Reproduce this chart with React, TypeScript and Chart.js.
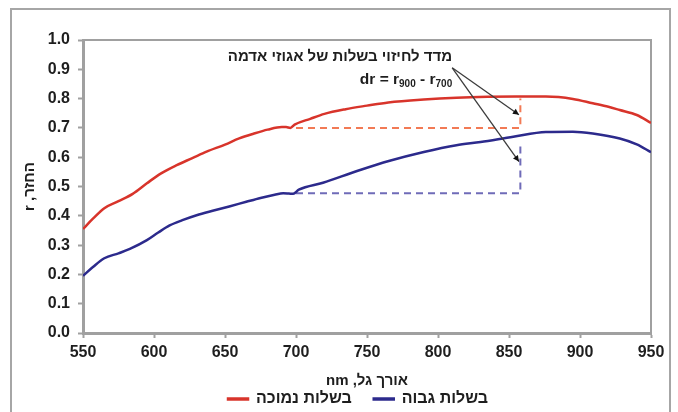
import React, { useEffect, useRef } from 'react';
import { Chart, registerables } from 'chart.js';

Chart.register(...registerables);

// ---- texts ----
const lowLabel = 'בשלות נמוכה';
const highLabel = 'בשלות גבוה';
const xTitle = 'אורך גל, nm';
const yTitle = 'החזר, r';
const noteLine1 = 'מדד לחיזוי בשלות של אגוזי אדמה';
const noteMain = ['dr = r', ' - r'];
const noteSubs = ['900', '700'];

// ---- axes ----
const xMin = 550;
const xMax = 950;
const xStep = 50;
const yMin = 0;
const yMax = 1;
const yStep = 0.1;

// ---- series: low maturity (red) ----
const lowX = [550, 557, 565, 575, 585, 595, 605, 616, 627, 637, 650, 660, 670, 680, 690, 693, 696, 699, 710, 720, 735, 750, 765, 790, 813, 835, 855, 876, 895, 909, 920, 928, 940, 950];
const lowY = [0.355, 0.39, 0.426, 0.45, 0.475, 0.511, 0.545, 0.573, 0.597, 0.619, 0.643, 0.664, 0.68, 0.694, 0.703, 0.703, 0.7, 0.711, 0.731, 0.748, 0.764, 0.776, 0.787, 0.797, 0.803, 0.806, 0.807, 0.807, 0.799, 0.784, 0.772, 0.761, 0.744, 0.717];

// ---- series: high maturity (blue) ----
const highX = [550, 557, 565, 575, 583, 595, 603, 611, 620, 630, 642, 653, 665, 675, 685, 691, 695, 698, 702, 719, 743, 766, 790, 813, 830, 853, 876, 895, 909, 928, 940, 950];
const highY = [0.195, 0.225, 0.255, 0.272, 0.287, 0.317, 0.343, 0.367, 0.385, 0.402, 0.418, 0.432, 0.448, 0.461, 0.472, 0.477, 0.476, 0.475, 0.489, 0.513, 0.553, 0.588, 0.618, 0.641, 0.652, 0.67, 0.686, 0.687, 0.681, 0.664, 0.644, 0.617];

// ---- dr guides (dashed) ----
const guideX = [700, 858, 858];
const guideLowY = [0.7, 0.7, 0.8];
const guideHighY = [0.477, 0.477, 0.65];

// ---- annotation anchors (data space) ----
const arrowStart = [810, 0.905];
const arrowTipX = [857, 857];
const arrowTipY = [0.745, 0.585];
const noteX = 810;
const noteY = [0.942, 0.864];

const FONT = 'Arial, "Liberation Sans", sans-serif';
const TEXT = '#1e1e1e';
const AXIS = '#a0a0a0';

const toPoints = (xs: number[], ys: number[]) => xs.map((x, i) => ({ x, y: ys[i] }));

const notePlugin = {
  id: 'note',
  beforeDatasetsDraw(chart: any) {
    const { ctx, chartArea } = chart;
    ctx.save();
    ctx.strokeStyle = AXIS;
    ctx.lineWidth = 2;
    ctx.strokeRect(chartArea.left, chartArea.top, chartArea.right - chartArea.left, chartArea.bottom - chartArea.top);
    ctx.restore();
  },
  afterDatasetsDraw(chart: any) {
    const { ctx } = chart;
    const xs = chart.scales.x;
    const ys = chart.scales.y;
    ctx.save();
    const sx = xs.getPixelForValue(arrowStart[0]);
    const sy = ys.getPixelForValue(arrowStart[1]);
    ctx.strokeStyle = '#3c3c3c';
    ctx.fillStyle = '#111';
    ctx.lineWidth = 1.3;
    for (let i = 0; i < arrowTipX.length; i++) {
      const tx = xs.getPixelForValue(arrowTipX[i]);
      const ty = ys.getPixelForValue(arrowTipY[i]);
      ctx.beginPath();
      ctx.moveTo(sx, sy);
      ctx.lineTo(tx, ty);
      ctx.stroke();
      const a = Math.atan2(ty - sy, tx - sx);
      const L = 6;
      const W = 3;
      ctx.beginPath();
      ctx.moveTo(tx, ty);
      ctx.lineTo(tx - L * Math.cos(a) + W * Math.sin(a), ty - L * Math.sin(a) - W * Math.cos(a));
      ctx.lineTo(tx - L * Math.cos(a) - W * Math.sin(a), ty - L * Math.sin(a) + W * Math.cos(a));
      ctx.closePath();
      ctx.fill();
    }
    const ax = xs.getPixelForValue(noteX);
    const y1 = ys.getPixelForValue(noteY[0]);
    const y2 = ys.getPixelForValue(noteY[1]);
    ctx.fillStyle = TEXT;
    ctx.textBaseline = 'middle';
    ctx.direction = 'rtl';
    ctx.textAlign = 'right';
    ctx.font = 'bold 15px ' + FONT;
    ctx.fillText(noteLine1, ax, y1);

    ctx.direction = 'ltr';
    ctx.textAlign = 'left';
    const mainFont = 'bold 15.5px ' + FONT;
    const subFont = 'bold 10px ' + FONT;
    const parts: { t: string; sub: boolean }[] = [];
    for (let i = 0; i < noteMain.length; i++) {
      parts.push({ t: noteMain[i], sub: false });
      parts.push({ t: noteSubs[i], sub: true });
    }
    let total = 0;
    const widths = parts.map((p) => {
      ctx.font = p.sub ? subFont : mainFont;
      const w = ctx.measureText(p.t).width;
      total += w;
      return w;
    });
    let cx = ax - total;
    parts.forEach((p, i) => {
      ctx.font = p.sub ? subFont : mainFont;
      ctx.fillText(p.t, cx, p.sub ? y2 + 4 : y2);
      cx += widths[i];
    });
    ctx.restore();
  },
};

export default function App() {
  const ref = useRef<HTMLCanvasElement | null>(null);

  useEffect(() => {
    if (!ref.current) return;
    const chart = new Chart(ref.current, {
      type: 'line',
      data: {
        datasets: [
          {
            label: lowLabel,
            data: toPoints(lowX, lowY),
            borderColor: '#d8342b',
            backgroundColor: '#d8342b',
            borderWidth: 2.5,
            pointRadius: 0,
            cubicInterpolationMode: 'monotone',
          },
          {
            label: highLabel,
            data: toPoints(highX, highY),
            borderColor: '#2c2a8c',
            backgroundColor: '#2c2a8c',
            borderWidth: 2.5,
            pointRadius: 0,
            cubicInterpolationMode: 'monotone',
          },
          {
            label: 'guide-low',
            data: toPoints(guideX, guideLowY),
            borderColor: '#f27a55',
            borderWidth: 2,
            borderDash: [7, 5],
            pointRadius: 0,
            tension: 0,
          },
          {
            label: 'guide-high',
            data: toPoints(guideX, guideHighY),
            borderColor: '#6f6bb8',
            borderWidth: 2,
            borderDash: [7, 5],
            pointRadius: 0,
            tension: 0,
          },
        ],
      },
      options: {
        responsive: false,
        animation: false,
        devicePixelRatio: 1,
        layout: { padding: { left: 38, right: 0, top: 40, bottom: -5 } },
        plugins: {
          tooltip: { enabled: false },
          legend: {
            position: 'bottom',
            labels: {
              filter: (item: any) => item.datasetIndex < 2,
              boxWidth: 20,
              boxHeight: 1,
              padding: 22,
              color: TEXT,
              font: { family: FONT, size: 16, weight: 'bold' },
            },
          },
        },
        scales: {
          x: {
            type: 'linear',
            min: xMin,
            max: xMax,
            afterFit: (s: any) => {
              s.height = 36;
            },
            ticks: {
              stepSize: xStep,
              padding: 5,
              color: TEXT,
              font: { family: FONT, size: 16, weight: 'bold' },
            },
            grid: { display: true, drawOnChartArea: false, drawTicks: true, tickLength: 5, tickColor: AXIS, tickWidth: 2 },
            border: { display: true, color: AXIS, width: 3 },
            title: {
              display: true,
              text: xTitle,
              color: TEXT,
              font: { family: FONT, size: 15, weight: 'bold' },
              padding: { top: 0, bottom: -21 },
            },
          },
          y: {
            type: 'linear',
            min: yMin,
            max: yMax,
            afterFit: (s: any) => {
              s.width = 45;
            },
            ticks: {
              stepSize: yStep,
              padding: 8,
              color: TEXT,
              font: { family: FONT, size: 16, weight: 'bold' },
              callback: (v: any) => Number(v).toFixed(1),
            },
            grid: { display: true, drawOnChartArea: false, drawTicks: true, tickLength: 5, tickColor: AXIS, tickWidth: 2 },
            border: { display: true, color: AXIS, width: 3 },
            title: {
              display: true,
              text: yTitle,
              color: TEXT,
              font: { family: FONT, size: 15, weight: 'bold' },
              padding: { top: -17, bottom: 0 },
            },
          },
          yRight: {
            type: 'linear',
            position: 'right',
            min: yMin,
            max: yMax,
            afterFit: (s: any) => {
              s.width = 27;
            },
            ticks: { display: false },
            grid: { display: false },
            border: { display: false },
          },
        },
      } as any,
      plugins: [notePlugin],
    });
    return () => chart.destroy();
  }, []);

  return (
    <div style={{ position: 'absolute', left: 0, top: 0, width: 678, height: 412, overflow: 'hidden', background: '#fff' }}>
      <div
        style={{
          position: 'absolute',
          left: 10,
          top: 8,
          width: 661,
          height: 430,
          boxSizing: 'border-box',
          border: '2px solid #a6a6a6',
        }}
      />
      <canvas
        ref={ref}
        width={678}
        height={412}
        style={{ position: 'absolute', left: 0, top: 0, width: 678, height: 412, direction: 'rtl' }}
      />
    </div>
  );
}
